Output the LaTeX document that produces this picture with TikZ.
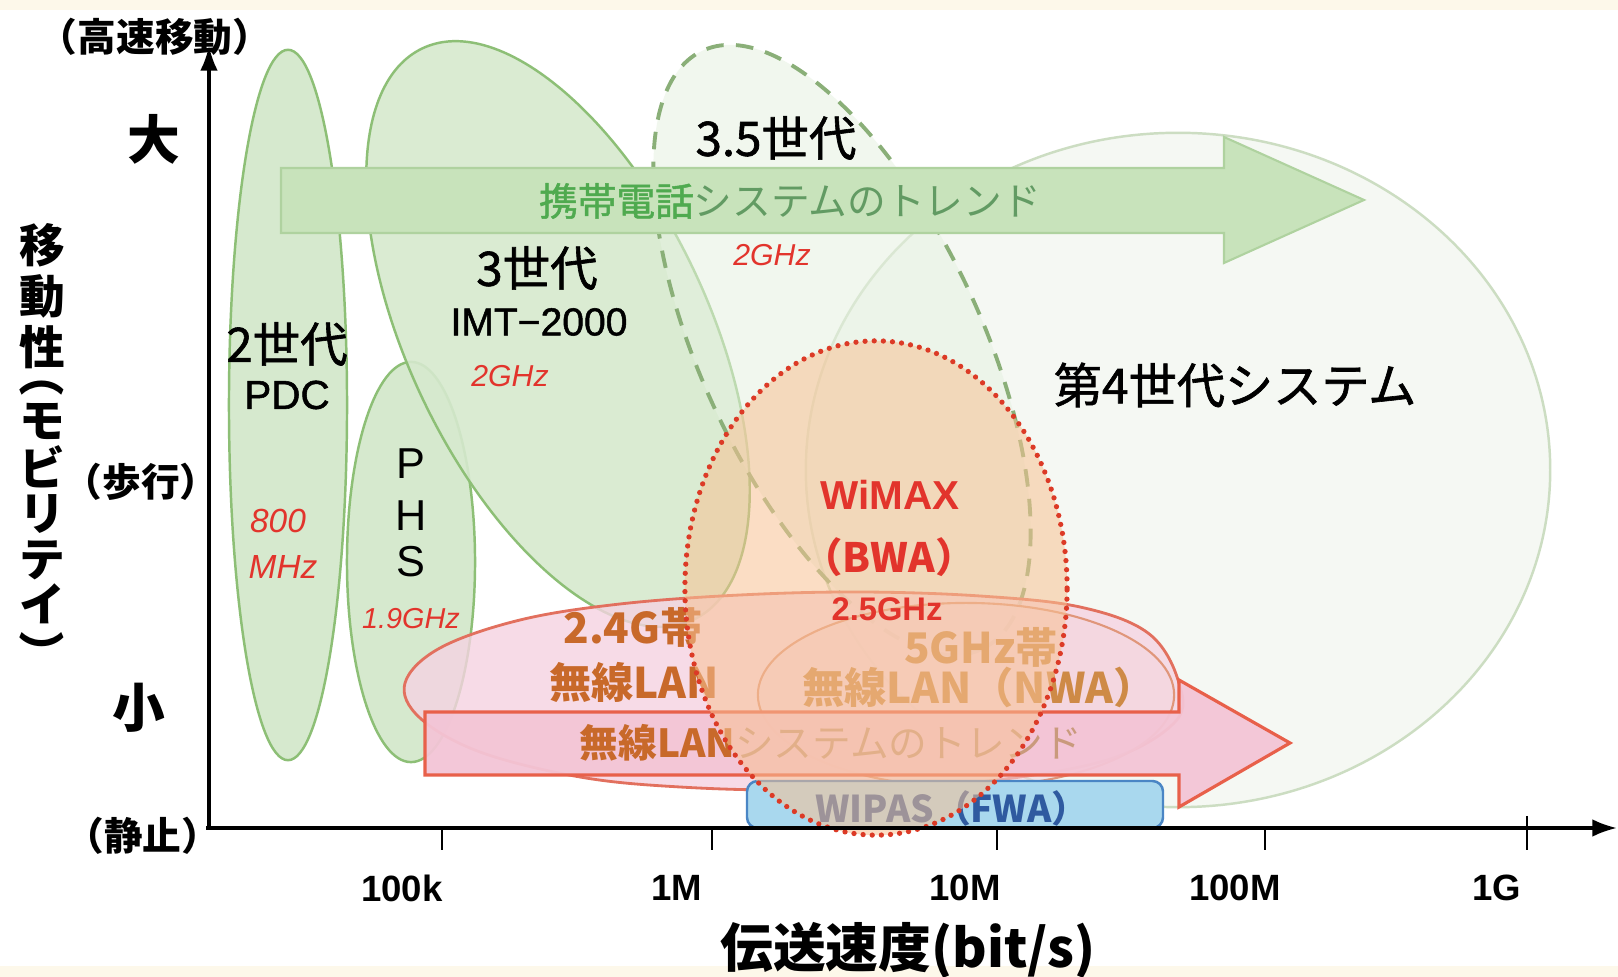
\documentclass[tikz,border=0pt]{standalone}
\usepackage{fontspec}
\setmainfont{Noto Sans CJK JP}
\newfontfamily\jpm{Noto Sans CJK JP}[FakeBold=1.3]
\newfontfamily\lat{Liberation Sans}
\newfontfamily\latm{Liberation Sans}[FakeBold=1.3]
\usetikzlibrary{arrows.meta}
\definecolor{gfill}{HTML}{D6E9CE}
\definecolor{gline}{HTML}{8DBF76}
\definecolor{g35fill}{HTML}{E6F1E1}
\definecolor{g35line}{HTML}{8AAF78}
\definecolor{g4fill}{HTML}{F5F8F3}
\definecolor{g4line}{HTML}{CCDDC2}
\definecolor{garrow}{HTML}{C8E3BB}
\definecolor{garrowline}{HTML}{AFD29F}
\definecolor{gtxt}{HTML}{4FAA4F}
\definecolor{gtxtb}{HTML}{629B63}
\definecolor{redlbl}{HTML}{E2342C}
\definecolor{lanfill}{HTML}{F5D3E2}
\definecolor{lanline}{HTML}{E2705E}
\definecolor{fivefill}{HTML}{F4D6DE}
\definecolor{fiveline}{HTML}{E0967A}
\definecolor{larrow}{HTML}{F3C5D6}
\definecolor{larrowline}{HTML}{E8604A}
\definecolor{lantxt}{HTML}{C8692A}
\definecolor{fivetxt}{HTML}{CE8A46}
\definecolor{lantxtb}{HTML}{C99A7C}
\definecolor{wimaxfill}{HTML}{F8C294}
\definecolor{wimaxline}{HTML}{DC3A26}
\definecolor{wipfill}{HTML}{A9D8EE}
\definecolor{wipline}{HTML}{4A86C5}
\definecolor{wiptxt}{HTML}{2F5AA0}
\definecolor{cream}{HTML}{FDF8EA}
\tikzset{
  big/.style={inner sep=0, font=\jpm\fontsize{13.5}{15}\selectfont},
  latbig/.style={inner sep=0, font=\latm\fontsize{11.5}{13}\selectfont},
  redit/.style={inner sep=0, text=redlbl, font=\lat\itshape\fontsize{8.6}{10}\selectfont},
  axlab/.style={inner sep=0, font=\bfseries\fontsize{11}{12}\selectfont},
  bigax/.style={inner sep=0, font=\bfseries\fontsize{15}{17}\selectfont},
  vch/.style={inner sep=0, font=\bfseries\fontsize{13}{15}\selectfont},
  tick/.style={inner sep=0, font=\lat\bfseries\fontsize{10.4}{12}\selectfont},
  lanlab/.style={inner sep=0, text=lantxt, font=\bfseries\fontsize{12}{14}\selectfont},
  fivelab/.style={inner sep=0, text=fivetxt, font=\bfseries\fontsize{12}{14}\selectfont},
  greenell/.style={fill=gfill, draw=gline, line width=0.7pt},
  axisline/.style={line width=0.9pt, -{Latex[length=7pt,width=5pt]}},
}
\begin{document}
\begin{tikzpicture}[x=0.01cm,y=-0.01cm]
\useasboundingbox (0,0) rectangle (1618,977);
\fill[white] (0,0) rectangle (1618,977);
\fill[cream] (0,0) rectangle (1618,10);
\fill[cream] (0,966) rectangle (1618,977);

% 4th generation
\draw[fill=g4fill, draw=g4line, line width=0.7pt] (1178,470) ellipse [x radius=3.72cm, y radius=3.37cm];
% 2G, PHS, 3G
\draw[greenell] (288,405) ellipse [x radius=0.59cm, y radius=3.55cm];
\draw[greenell] (411,562) ellipse [x radius=0.64cm, y radius=2.0cm];
\draw[greenell, fill opacity=0.9] [rotate around={-64.6:(558,334)}] (558,334) ellipse [x radius=3.16cm, y radius=1.5cm];
% 3.5G
\draw[fill=g35fill, fill opacity=0.55, draw=g35line, line width=1.1pt, dash pattern=on 5pt off 3.5pt] [rotate around={-65:(842,350)}] (842,350) ellipse [x radius=3.3cm, y radius=1.4cm];

% mobile phone trend arrow
\draw[fill=garrow, draw=garrowline, line width=0.6pt] (281,168) -- (1224,168) -- (1224,137) -- (1364,200) -- (1224,263) -- (1224,233) -- (281,233) -- cycle;
\node[inner sep=0, font=\fontsize{11}{13}\selectfont] (mtrend) at (790,201) {\textcolor{gtxt}{\jpm 携帯電話}\textcolor{gtxtb}{システムのトレンド}};

% 2.4G LAN shape
\draw[fill=lanfill, fill opacity=0.8, draw=lanline, line width=0.8pt] plot[smooth cycle, tension=0.6] coordinates {(405,683) (440,648) (520,620) (620,604) (740,595) (860,592) (980,596) (1080,607) (1148,633) (1178,680) (1175,722) (1100,762) (950,785) (800,790) (680,787) (580,777) (480,752) (420,718)};
% 5GHz LAN ellipse
\draw[fill=fivefill, fill opacity=0.6, draw=fiveline, line width=0.6pt] (966,695) ellipse [x radius=2.08cm, y radius=0.92cm];
% LAN trend arrow
\draw[fill=larrow, fill opacity=0.95, draw=larrowline, line width=0.9pt] (425,712) -- (1179,712) -- (1179,680) -- (1290,743) -- (1179,807) -- (1179,775) -- (425,775) -- cycle;

\node[lanlab] (l24a) at (633,627) {2.4G帯};
\node[lanlab] (l24b) at (634,682) {無線LAN};
\node[fivelab] (l5a) at (981,647) {5GHz帯};
\node[fivelab] (l5b) at (979,687) {無線LAN（NWA）};
\node[inner sep=0, font=\fontsize{11}{13}\selectfont] (ltrend) at (831,743) {\textcolor{lantxt}{\bfseries 無線LAN}\textcolor{lantxtb}{システムのトレンド}};

% WIPAS box
\draw[fill=wipfill, draw=wipline, line width=0.7pt, rounded corners=3pt] (747,781) rectangle (1163,828);
\node[inner sep=0, text=wiptxt, font=\bfseries\fontsize{10.5}{12}\selectfont] (wipas) at (952,808) {WIPAS（FWA）};

% WiMAX ellipse
\draw[fill=wimaxfill, fill opacity=0.55, draw=wimaxline, line width=1.5pt, dash pattern=on 0pt off 2.6pt, line cap=round] (876,588) ellipse [x radius=1.91cm, y radius=2.47cm];
\node[inner sep=0, text=redlbl, font=\lat\bfseries\fontsize{11.5}{13}\selectfont] (wimax) at (890,495) {WiMAX};
\node[inner sep=0, text=redlbl, font=\bfseries\fontsize{11.5}{13}\selectfont] (bwa) at (889,557) {（BWA）};
\node[inner sep=0, text=redlbl, font=\lat\bfseries\fontsize{9.3}{11}\selectfont] (f25) at (887,609) {2.5GHz};

% generation labels
\node[big] (g2) at (287,344) {2世代};
\node[latbig] (pdc) at (287,395) {PDC};
\node[redit, font=\lat\itshape\fontsize{9.5}{11}\selectfont] (f800) at (278,521) {800};
\node[redit, font=\lat\itshape\fontsize{9.5}{11}\selectfont] (fmhz) at (283,567) {MHz};
\node[latbig, font=\lat\fontsize{12.3}{14}\selectfont] (p) at (411,464) {P};
\node[latbig, font=\lat\fontsize{12.3}{14}\selectfont] (h) at (411,516) {H};
\node[latbig, font=\lat\fontsize{12.3}{14}\selectfont] (s) at (411,562) {S};
\node[redit, font=\lat\itshape\fontsize{8.2}{10}\selectfont] (f19) at (411,619) {1.9GHz};
\node[big] (g3) at (537,268) {3世代};
\node[latbig, font=\latm\fontsize{11.1}{13}\selectfont] (imt) at (539,322) {IMT−2000};
\node[redit] (f2a) at (510,376) {2GHz};
\node[big] (g35) at (776,138) {3.5世代};
\node[redit] (f2b) at (772,255) {2GHz};
\node[big, font=\jpm\fontsize{13.7}{15}\selectfont] (g4) at (1235,385) {第4世代システム};

% axes
\coordinate (O) at (209,828);
\coordinate (ytop) at (209,46);
\coordinate (xend) at (1617,828);
\draw[axisline] (O) -- (ytop);
\draw[axisline] (206,828) -- (xend);
\foreach \x/\nm in {442/a,712/b,997/c,1265/d} {
  \coordinate (t\nm) at (\x,828);
  \draw[line width=0.6pt] (t\nm) -- ++(0,22);
}
\coordinate (te) at (1527,816);
\draw[line width=0.6pt] (te) -- ++(0,34);

\node[tick] (k100) at (402,888) {100k};
\node[tick] (m1) at (677,888) {1M};
\node[tick] (m10) at (965,888) {10M};
\node[tick] (m100) at (1235,888) {100M};
\node[tick] (g1) at (1497,888) {1G};
\node[bigax] (xlab) at (908,950) {伝送速度(bit/s)};

\node[axlab] (hi) at (155,37) {（高速移動）};
\node[bigax] (dai) at (154,139) {大};
\node[axlab] (walk) at (141,482) {（歩行）};
\node[bigax] (sho) at (139,708) {小};
\node[axlab] (still) at (143,836) {（静止）};
\foreach \c/\y/\n in {移/245/1,動/296/2,性/347/3,モ/421/5,ビ/467/6,リ/514/7,テ/560/8,イ/604/9} {
  \node[vch] (v\n) at (42,\y) {\c};
}
\node[vch, rotate=-90] (v4) at (42,374) {（};
\node[vch, rotate=-90] (v10) at (42,653) {）};
\end{tikzpicture}
\end{document}
